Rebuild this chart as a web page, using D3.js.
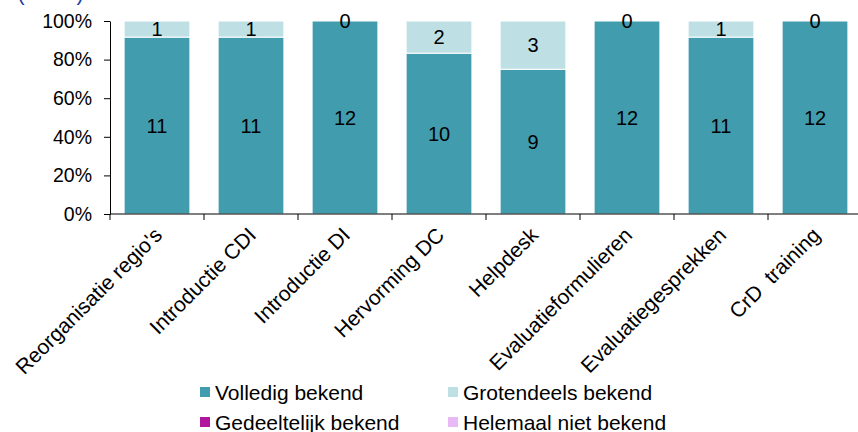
<!DOCTYPE html>
<html>
<head>
<meta charset="utf-8">
<script src="https://cdn.jsdelivr.net/npm/d3@7"></script>
<style>
  body { margin: 0; background: #fff; }
  svg { display: block; font-family: "Liberation Sans", Arial, sans-serif; }
</style>
</head>
<body>
<div id="chart"></div>
<script>
// data
var categories = ["Reorganisatie regio's", "Introductie CDI", "Introductie DI", "Hervorming DC",
  "Helpdesk", "Evaluatieformulieren", "Evaluatiegesprekken", "CrD  training"];
var seriesNames = ["Volledig bekend", "Grotendeels bekend", "Gedeeltelijk bekend", "Helemaal niet bekend"];
var volledig = [11, 11, 12, 10, 9, 12, 11, 12];
var grotendeels = [1, 1, 0, 2, 3, 0, 1, 0];
var gedeeltelijk = [0, 0, 0, 0, 0, 0, 0, 0];
var helemaalNiet = [0, 0, 0, 0, 0, 0, 0, 0];
var yTicks = [0, 0.2, 0.4, 0.6, 0.8, 1];

var colors = ["#419cae", "#bedfe4", "#b0179c", "#e8b9f4"];

var width = 858, height = 432;
var margin = {left: 110, top: 21, right: -4, bottom: 218};

var svg = d3.select("#chart").append("svg")
  .attr("width", width)
  .attr("height", height);

// title, cut off at the very top
svg.append("text")
  .attr("x", 17)
  .attr("y", 0)
  .attr("font-size", 23)
  .attr("fill", "#1f3f9f")
  .text("(n=12)");

var rows = categories.map(function(c, i) {
  return {cat: c, v0: volledig[i], v1: grotendeels[i], v2: gedeeltelijk[i], v3: helemaalNiet[i]};
});
rows.forEach(function(r) { r.total = r.v0 + r.v1 + r.v2 + r.v3; });

var stack = d3.stack()
  .keys(["v0", "v1", "v2", "v3"])
  .value(function(d, k) { return d[k] / d.total; });
var series = stack(rows);

var x = d3.scaleBand()
  .domain(categories)
  .range([margin.left, width - margin.right])
  .paddingInner(0.3)
  .paddingOuter(0.15);

var y = d3.scaleLinear()
  .domain([0, 1])
  .range([height - margin.bottom, margin.top]);

// bars
var layer = svg.append("g")
  .selectAll("g")
  .data(series)
  .join("g")
  .attr("fill", function(d, i) { return colors[i]; });

layer.selectAll("rect")
  .data(function(d) { return d; })
  .join("rect")
  .attr("x", function(d) { return x(d.data.cat); })
  .attr("y", function(d) { return y(d[1]); })
  .attr("width", x.bandwidth())
  .attr("height", function(d) { return y(d[0]) - y(d[1]); })
  .attr("stroke", "#fff")
  .attr("stroke-width", 1);

// value labels (first two series)
series.slice(0, 2).forEach(function(s, si) {
  svg.append("g")
    .attr("font-size", 20)
    .attr("text-anchor", "middle")
    .attr("fill", "#000")
    .selectAll("text")
    .data(s)
    .join("text")
    .attr("x", function(d) { return x(d.data.cat) + x.bandwidth() / 2; })
    .attr("y", function(d) { return (y(d[0]) + y(d[1])) / 2; })
    .attr("dy", "0.36em")
    .text(function(d) { return si === 0 ? d.data.v0 : d.data.v1; });
});

// y axis
var yAxis = svg.append("g")
  .attr("transform", "translate(" + margin.left + ",0)")
  .call(d3.axisLeft(y).tickValues(yTicks).tickFormat(d3.format(".0%")).tickSize(6).tickSizeOuter(0));
yAxis.selectAll("text").attr("font-size", 19.5).attr("fill", "#000").attr("x", -18);
yAxis.select(".domain").attr("stroke", "#000");
yAxis.selectAll("line").attr("stroke", "#000");

// x axis with ticks on band boundaries
var xAxis = svg.append("g")
  .attr("transform", "translate(0," + y(0) + ")");
xAxis.append("line")
  .attr("x1", margin.left).attr("x2", width)
  .attr("stroke", "#000");
xAxis.selectAll(".tk")
  .data(categories)
  .join("line")
  .attr("class", "tk")
  .attr("x1", function(d) { return x(d) - x.step() * 0.15; })
  .attr("x2", function(d) { return x(d) - x.step() * 0.15; })
  .attr("y1", 0).attr("y2", 6)
  .attr("stroke", "#000");
xAxis.selectAll("text")
  .data(categories)
  .join("text")
  .attr("font-size", 21)
  .attr("fill", "#000")
  .attr("text-anchor", "end")
  .style("white-space", "pre")
  .attr("transform", function(d) {
    return "translate(" + (x(d) + x.bandwidth() / 2 - 4) + ",12) rotate(-45)";
  })
  .attr("dy", "0.7em")
  .text(function(d) { return d; });

// legend
var legend = svg.append("g").attr("font-size", 21);
var legendItems = legend.selectAll("g")
  .data(seriesNames)
  .join("g")
  .attr("transform", function(d, i) {
    return "translate(" + (i % 2 === 0 ? 200 : 448) + "," + (i < 2 ? 392 : 422) + ")";
  });
legendItems.append("rect")
  .attr("x", 0).attr("y", -5)
  .attr("width", 10).attr("height", 10)
  .attr("fill", function(d, i) { return colors[i]; });
legendItems.append("text")
  .attr("x", 15)
  .attr("dy", "0.36em")
  .attr("fill", "#000")
  .text(function(d) { return d; });
</script>
</body>
</html>
